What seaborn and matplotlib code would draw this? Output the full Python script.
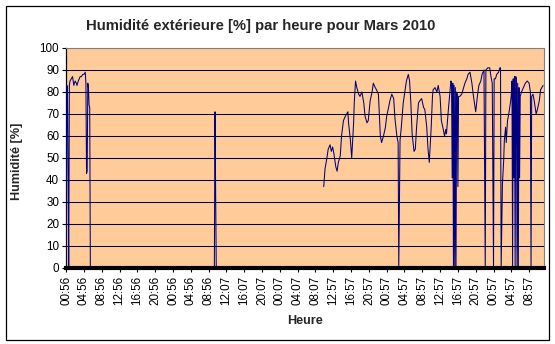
import numpy as np
import pandas as pd
import matplotlib
matplotlib.use("Agg")
import matplotlib.pyplot as plt
import seaborn as sns

# Hourly outdoor humidity, March 2010 (hour index since start of month, % RH).
# Each block is a continuous run of records; gaps between blocks are missing data.
seg1_hour = [0, 1, 2, 3, 4, 5, 6, 8, 10, 12, 14, 16, 17, 19, 22, 24, 26, 28, 30,
             31, 32, 33, 34, 35, 36, 37, 38, 232]
seg1_hum = [0, 83, 82, 41, 0, 83, 85, 86, 87, 83, 85, 84, 83, 85, 87, 87, 88, 88, 89,
            84, 43, 44, 84, 82, 74, 73, 0, 0]

seg2_hour = [233, 234, 235, 236, 250]
seg2_hum = [0, 71, 35, 0, 0]

seg3_hour = [405, 407, 410, 412, 415, 417, 419, 421, 424, 426, 428, 431, 433, 436,
             439, 441, 443, 444, 447, 449, 452, 453, 455, 457, 460, 462, 465, 468,
             470, 473, 475, 478, 481, 483, 486, 488, 491, 494, 496, 499, 502, 504,
             507, 509, 512, 515, 517, 520, 522, 523, 525, 527, 530, 533, 535, 538,
             540, 542, 544, 547, 549, 551, 554, 556, 559, 562, 564, 567, 569, 571,
             574, 576, 577, 580, 583, 585, 588, 590, 593, 595, 597, 598, 601, 604,
             605, 606, 607, 608, 609, 610, 611, 612, 613, 614, 615, 616, 617, 619,
             622, 625, 627, 630, 632, 635, 638, 640, 643, 644, 647, 649, 652, 654,
             657, 658, 659, 660, 663, 666, 668, 670, 671, 672, 673, 675, 677, 680,
             682, 683, 684, 686, 688, 689, 691, 692, 694, 696, 699, 700, 701, 702,
             703, 704, 705, 706, 707, 708, 709, 710, 711, 712, 713, 714, 716, 719,
             722, 725, 728, 730, 731, 732, 734, 736, 739, 741, 744, 746, 748, 750]
seg3_hum = [37, 45, 50, 54, 56, 53, 55, 52, 46, 44, 48, 51, 60, 67,
            69, 70, 71, 66, 58, 50, 66, 75, 85, 82, 79, 78, 80, 75,
            69, 66, 67, 76, 80, 84, 82, 81, 79, 60, 57, 60, 64, 69,
            73, 76, 79, 77, 68, 60, 57, 0, 58, 64, 75, 81, 85, 88,
            85, 75, 61, 53, 54, 64, 75, 76, 77, 73, 72, 64, 54, 48,
            64, 78, 81, 82, 80, 83, 78, 67, 63, 60, 63, 61, 72, 82,
            85, 84, 41, 84, 0, 83, 0, 82, 0, 80, 79, 37, 78, 78,
            79, 82, 84, 86, 88, 89, 84, 79, 73, 71, 79, 83, 85, 88,
            90, 44, 0, 90, 91, 91, 87, 84, 38, 0, 86, 86, 88, 89,
            91, 91, 0, 38, 49, 58, 64, 57, 67, 70, 76, 79, 85, 0,
            86, 41, 87, 0, 87, 86, 0, 84, 0, 82, 41, 78, 80, 82,
            84, 85, 84, 80, 0, 78, 79, 76, 70, 72, 76, 81, 82, 83]

tick_labels = ["00:56", "04:56", "08:56", "12:56", "16:56", "20:56", "00:56",
               "04:56", "08:56", "12:07", "16:07", "20:07", "00:07", "04:07",
               "08:07", "12:57", "16:57", "20:57", "00:57", "04:57", "08:57",
               "12:57", "16:57", "20:57", "00:57", "04:57", "08:57"]

frames = []
for k, (h, v) in enumerate([(seg1_hour, seg1_hum), (seg2_hour, seg2_hum),
                            (seg3_hour, seg3_hum)]):
    frames.append(pd.DataFrame({"hour": h, "humidity": v, "run": k}))
df = pd.concat(frames, ignore_index=True)

sns.set_theme(style="white")
plt.rcParams["font.family"] = ["Liberation Sans", "DejaVu Sans"]

W, H = 555, 344
fig = plt.figure(figsize=(W / 100, H / 100), dpi=100)
fig.patch.set_facecolor("white")

# plot area in pixel coordinates
x0, x1, y_top, y_bot = 66, 543.5, 48, 268
ax = fig.add_axes([x0 / W, 1 - y_bot / H, (x1 - x0) / W, (y_bot - y_top) / H])
ax.set_facecolor("#FFCC99")

for yv in range(10, 101, 10):
    ax.axhline(yv, color="black", lw=0.75, zorder=1)

sns.lineplot(data=df, x="hour", y="humidity", units="run", estimator=None,
             sort=False, color="#000080", lw=0.75, ax=ax, zorder=3, legend=False)

ax.set_xlim(-0.3, 750.6)
ax.set_ylim(0, 100)
ax.set_yticks(range(0, 101, 10))
ax.set_yticklabels([str(v) for v in range(0, 101, 10)], fontsize=8.4)
ax.set_xticks(range(0, 28 * len(tick_labels), 28))
ax.set_xticklabels(tick_labels, rotation=90, fontsize=8.4)

ax.tick_params(axis="y", direction="out", length=3, width=0.8, pad=2, colors="black",
               left=True)
ax.tick_params(axis="x", direction="out", length=3, width=0.8, pad=2.5, colors="black",
               bottom=True)

for side in ("top", "right"):
    ax.spines[side].set_color("#808080")
    ax.spines[side].set_linewidth(0.8)
ax.spines["left"].set_color("black")
ax.spines["left"].set_linewidth(0.9)
ax.spines["bottom"].set_color("black")
ax.spines["bottom"].set_linewidth(3.0)
ax.spines["bottom"].set_zorder(5)

ax.set_xlabel("")
ax.set_ylabel("")

fig.text(261 / W, 1 - 26 / H, "Humidité extérieure [%] par heure pour Mars 2010",
         ha="center", va="center", fontsize=10.7, fontweight="bold")
fig.text(17 / W, 1 - 161 / H, "Humidité [%]", ha="center", va="center",
         rotation=90, fontsize=9.1, fontweight="bold")
fig.text(305 / W, 1 - 321 / H, "Heure", ha="center", va="center",
         fontsize=9.1, fontweight="bold")

# chart frame
fig.add_artist(plt.Rectangle((5.5 / W, 1 - 339.5 / H), 543 / W, 334 / H,
                             transform=fig.transFigure, fill=False,
                             edgecolor="black", lw=0.9))

fig.savefig("out.png", dpi=100, facecolor="white")
